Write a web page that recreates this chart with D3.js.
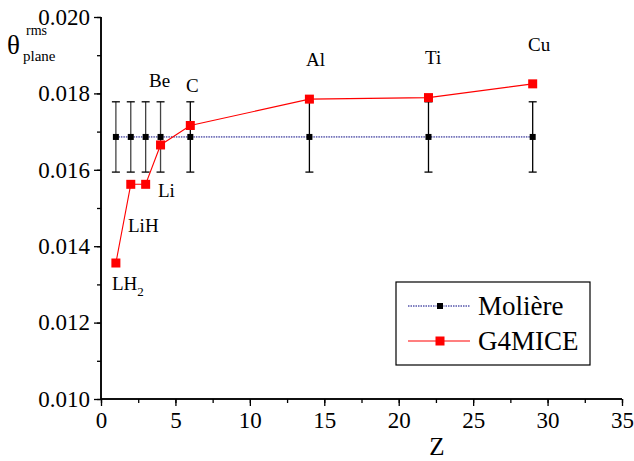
<!DOCTYPE html>
<html>
<head>
<meta charset="utf-8">
<script src="https://cdn.jsdelivr.net/npm/d3@7"></script>
<style>
  body { margin: 0; background: #fff; }
  text { font-family: "Liberation Serif", "Times New Roman", serif; fill: #000; }
</style>
</head>
<body>
<div id="chart-area"></div>
<script>
// Data ----------------------------------------------------
const zValues = [1, 2, 3, 4, 6, 14, 22, 29]
const moliere = [0.01686, 0.01686, 0.01686, 0.01686, 0.01686, 0.01686, 0.01686, 0.01686]
const moliereErr = [0.00092, 0.00092, 0.00092, 0.00092, 0.00092, 0.00092, 0.00092, 0.00092]
const g4mice = [0.01356, 0.01562, 0.01562, 0.01665, 0.01716, 0.01785, 0.01789, 0.01825]
const materials = ["LH2", "LiH", "Li", "Be", "C", "Al", "Ti", "Cu"]
const xTicks = [0, 5, 10, 15, 20, 25, 30, 35]
const yTicks = [0.010, 0.012, 0.014, 0.016, 0.018, 0.020]

// Canvas setup -----------------------------------------
const W = 634, H = 461
const MARGIN = {LEFT: 101, RIGHT: 12, TOP: 17, BOTTOM: 62}
const WIDTH = W - MARGIN.LEFT - MARGIN.RIGHT
const HEIGHT = H - MARGIN.TOP - MARGIN.BOTTOM

const svg = d3.select("#chart-area").append("svg")
  .attr("width", W)
  .attr("height", H)

const g = svg.append("g")
  .attr("transform", `translate(${MARGIN.LEFT}, ${MARGIN.TOP})`)

const x = d3.scaleLinear().domain([0, 35]).range([0, WIDTH])
const y = d3.scaleLinear().domain([0.010, 0.020]).range([HEIGHT, 0])

// Axes ---------------------------------------------------
const xMinor = d3.range(0, 35.01, 2.5)
const yMinor = d3.range(0.010, 0.02001, 0.001)

const xAxisG = g.append("g").attr("transform", `translate(0, ${HEIGHT})`)
xAxisG.call(d3.axisBottom(x).tickValues(xMinor).tickSize(4).tickFormat(""))
const xMajor = g.append("g").attr("transform", `translate(0, ${HEIGHT})`)
  .call(d3.axisBottom(x).tickValues(xTicks).tickSize(7).tickPadding(6).tickFormat(d3.format("d")))
xMajor.selectAll("text").attr("font-size", "23px").attr("font-family", "Liberation Serif")

const yAxisG = g.append("g")
yAxisG.call(d3.axisLeft(y).tickValues(yMinor).tickSize(4).tickFormat(""))
const yMajor = g.append("g")
  .call(d3.axisLeft(y).tickValues(yTicks).tickSize(7).tickPadding(4).tickFormat(d3.format(".3f")))
yMajor.selectAll("text").attr("font-size", "23px").attr("font-family", "Liberation Serif")

g.selectAll(".domain").attr("stroke", "#000").attr("stroke-width", 1.5)
g.selectAll(".tick line").attr("stroke", "#000").attr("stroke-width", 1.3)
// only left and bottom spines
yAxisG.select(".domain").attr("d", `M0,${HEIGHT}V0`)
yMajor.select(".domain").attr("d", `M0,${HEIGHT}V0`)
xAxisG.select(".domain").attr("d", `M0,0H${WIDTH}`)
xMajor.select(".domain").attr("d", `M0,0H${WIDTH}`)

// Axis titles -------------------------------------------
svg.append("text")
  .attr("x", 437).attr("y", 455)
  .attr("text-anchor", "middle")
  .attr("font-size", "25px")
  .text("Z")

const yLab = svg.append("g")
yLab.append("text").attr("x", 7).attr("y", 54).attr("font-size", "27px").text("θ")
yLab.append("text").attr("x", 26).attr("y", 35).attr("font-size", "14px").text("rms")
yLab.append("text").attr("x", 23).attr("y", 61).attr("font-size", "15px").text("plane")

// Moliere series ------------------------------------------
const pts = zValues.map((z, i) => ({z, m: moliere[i], e: moliereErr[i], g: g4mice[i], name: materials[i]}))

g.append("path")
  .datum(pts)
  .attr("fill", "none")
  .attr("stroke", "#000080")
  .attr("stroke-width", 1)
  .attr("stroke-dasharray", "1.5,1")
  .attr("d", d3.line().x(d => x(d.z)).y(d => y(d.m)))

const err = g.selectAll(".err").data(pts).enter().append("g").attr("class", "err")
err.append("line")
  .attr("x1", d => x(d.z)).attr("x2", d => x(d.z))
  .attr("y1", d => y(d.m - d.e)).attr("y2", d => y(d.m + d.e))
  .attr("stroke", (d, i) => i < 4 ? "#444" : "#000").attr("stroke-width", 1.3)
err.selectAll(".cap").data(d => [d.m - d.e, d.m + d.e].map(v => ({z: d.z, v}))).enter().append("line")
  .attr("x1", d => x(d.z) - 4).attr("x2", d => x(d.z) + 4)
  .attr("y1", d => y(d.v)).attr("y2", d => y(d.v))
  .attr("stroke", "#000").attr("stroke-width", 1.3)

g.selectAll(".mol").data(pts).enter().append("rect")
  .attr("x", d => x(d.z) - 3).attr("y", d => y(d.m) - 3)
  .attr("width", 6).attr("height", 6)
  .attr("fill", "#000")

// G4MICE series ------------------------------------------
g.append("path")
  .datum(pts)
  .attr("fill", "none")
  .attr("stroke", "#ff0000")
  .attr("stroke-width", 1.1)
  .attr("d", d3.line().x(d => x(d.z)).y(d => y(d.g)))

g.selectAll(".g4").data(pts).enter().append("rect")
  .attr("x", d => x(d.z) - 4.5).attr("y", d => y(d.g) - 4.5)
  .attr("width", 9).attr("height", 9)
  .attr("fill", "#ff0000")

// Material labels ---------------------------------------
const labelPos = {
  LH2: [112, 290], LiH: [128, 232], Li: [158, 197], Be: [149, 87],
  C: [186, 92], Al: [306, 66], Ti: [425, 64], Cu: [528, 51]
}
materials.forEach(name => {
  const [lx, ly] = labelPos[name]
  const t = svg.append("text").attr("x", lx).attr("y", ly).attr("font-size", "19px")
  if (name === "LH2") {
    t.append("tspan").text("LH")
    t.append("tspan").attr("font-size", "13px").attr("dy", 6).text("2")
  } else {
    t.text(name)
  }
})

// Legend ------------------------------------------------
const leg = svg.append("g")
leg.append("rect")
  .attr("x", 396).attr("y", 282).attr("width", 194).attr("height", 83)
  .attr("fill", "#fff").attr("stroke", "#000").attr("stroke-width", 1.2)

leg.append("line").attr("x1", 408).attr("x2", 470).attr("y1", 306).attr("y2", 306)
  .attr("stroke", "#000080").attr("stroke-width", 1).attr("stroke-dasharray", "1.5,1")
leg.append("rect").attr("x", 436.5).attr("y", 302.5).attr("width", 7).attr("height", 7)
  .attr("fill", "#fff")
leg.append("rect").attr("x", 437).attr("y", 303).attr("width", 6).attr("height", 6).attr("fill", "#000")
leg.append("text").attr("x", 478).attr("y", 315).attr("font-size", "27px").text("Molière")

leg.append("line").attr("x1", 408).attr("x2", 470).attr("y1", 341).attr("y2", 341)
  .attr("stroke", "#ff0000").attr("stroke-width", 1.1)
leg.append("rect").attr("x", 435.5).attr("y", 336.5).attr("width", 9).attr("height", 9).attr("fill", "#ff0000")
leg.append("text").attr("x", 478).attr("y", 350).attr("font-size", "27px").text("G4MICE")
</script>
</body>
</html>
